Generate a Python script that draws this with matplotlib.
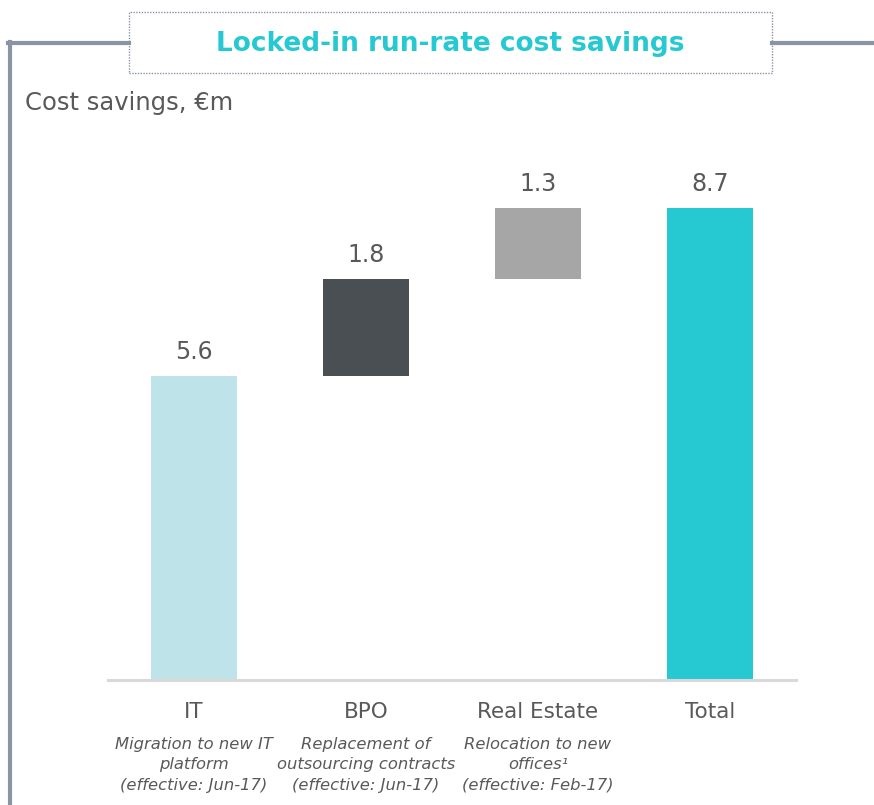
import matplotlib
matplotlib.use("Agg")
import matplotlib.pyplot as plt
from matplotlib.patches import Rectangle
from matplotlib.lines import Line2D

categories = ["IT", "BPO", "Real Estate", "Total"]
values = [5.6, 1.8, 1.3, 8.7]
descriptions = [
    "Migration to new IT\nplatform\n(effective: Jun-17)",
    "Replacement of\noutsourcing contracts\n(effective: Jun-17)",
    "Relocation to new\noffices¹\n(effective: Feb-17)",
    "",
]
colors = ["#bee3e8", "#4a4f54", "#a6a6a6", "#26c9d2"]
title = "Locked-in run-rate cost savings"
unit_label = "Cost savings, €m"

TEXT = "#595959"
FRAME = "#8a94a5"
W, H = 874, 805

fig = plt.figure(figsize=(W / 100, H / 100), dpi=100)
fig.patch.set_facecolor("white")

def fx(px):
    return px / W

def fy(py):
    return 1 - py / H

ax = fig.add_axes([fx(108), fy(680), fx(796) - fx(108), fy(137.5) - fy(680)])

# waterfall bottoms
bottoms = []
running = 0.0
for i, v in enumerate(values):
    if i == len(values) - 1:
        bottoms.append(0.0)
    else:
        bottoms.append(running)
        running += v

x = list(range(len(categories)))
ax.bar(x, values, bottom=bottoms, width=0.5, color=colors, zorder=2)
for xi, v, b in zip(x, values, bottoms):
    ax.annotate(f"{v:.1f}", xy=(xi, b + v), xytext=(0, 12),
                textcoords="offset pixels", ha="center", va="bottom",
                fontsize=17, color=TEXT)

ax.set_xlim(-0.5, 3.5)
ax.set_ylim(0, 10)
ax.set_yticks([])
ax.set_xticks([])
for s in ["left", "right", "top"]:
    ax.spines[s].set_visible(False)
ax.spines["bottom"].set_color("#d9d9d9")
ax.spines["bottom"].set_linewidth(2.2)
ax.spines["bottom"].set_zorder(3)

trans = ax.get_xaxis_transform()
for xi, c, d in zip(x, categories, descriptions):
    ax.annotate(c, xy=(xi, 0), xycoords=trans, xytext=(0, -22),
                textcoords="offset pixels", ha="center", va="top",
                fontsize=15.5, color=TEXT)
    if d:
        ax.annotate(d, xy=(xi, 0), xycoords=trans, xytext=(0, -57),
                    textcoords="offset pixels", ha="center", va="top",
                    fontsize=11.8, style="italic", color=TEXT,
                    linespacing=1.45)

# frame lines
fig.add_artist(Line2D([fx(8), fx(129)], [fy(43), fy(43)], color=FRAME, lw=3))
fig.add_artist(Line2D([fx(772), fx(874)], [fy(43), fy(43)], color=FRAME, lw=3))
fig.add_artist(Line2D([fx(10), fx(10)], [fy(42), fy(805)], color=FRAME, lw=3))

# title box
fig.add_artist(Rectangle((fx(129), fy(73)), fx(772) - fx(129), fy(12) - fy(73),
                         transform=fig.transFigure, fill=False,
                         edgecolor=FRAME, lw=1, linestyle=(0, (1, 1))))
fig.text(fx(450), fy(44), title, ha="center", va="center", fontsize=19,
         fontweight="bold", color="#26c9d2")
fig.text(fx(25), fy(103), unit_label, ha="left", va="center", fontsize=17.5,
         color=TEXT)

fig.savefig("out.png", dpi=100, facecolor="white")
